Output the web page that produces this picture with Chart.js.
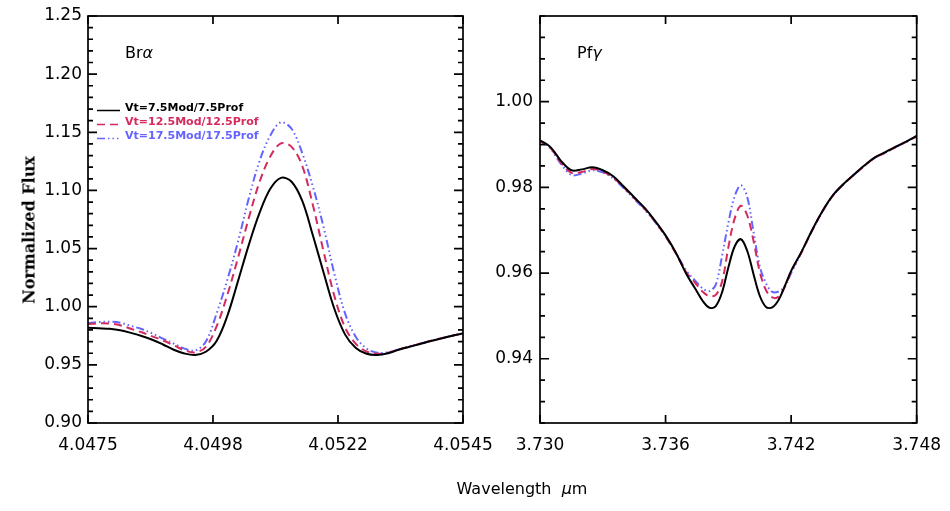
<!DOCTYPE html>
<html>
<head>
<meta charset="utf-8">
<script src="https://cdn.jsdelivr.net/npm/chart.js@4.4.1/dist/chart.umd.min.js"></script>
<style>
  body { margin: 0; background: #fff; }
  #wrap { position: relative; width: 950px; height: 511px; }
  #wrap canvas { position: absolute; left: 0; top: 0; }
  .ytitle { position: absolute; left: 29px; top: 230px; transform: translate(-50%, -50%) rotate(-90deg);
            font: bold 16px "DejaVu Serif"; white-space: nowrap; color: #000; }
  .xtitle { position: absolute; left: 522px; top: 488px; transform: translate(-50%, -50%);
            font: 16px "DejaVu Sans"; white-space: nowrap; color: #000; }
</style>
</head>
<body>
<div id="wrap">
  <canvas id="bra" width="950" height="511"></canvas>
  <canvas id="pfg" width="950" height="511"></canvas>
  <div class="ytitle">Normalized Flux</div>
  <div class="xtitle">Wavelength&nbsp; <i>μ</i>m</div>
</div>
<script>
// series shared by both panels
const seriesLabels = ['Vt=7.5Mod/7.5Prof', 'Vt=12.5Mod/12.5Prof', 'Vt=17.5Mod/17.5Prof'];
const seriesColors = ['#000000', '#d42a5e', '#6464ff'];
const seriesDash = [[], [8, 5], [8, 3, 1.5, 3, 1.5, 3, 1.5, 3]];

// Br alpha panel
const braWave = [4.0475, 4.0477, 4.0479, 4.0481, 4.0483, 4.0485, 4.0487, 4.0489, 4.0491, 4.0493,
  4.0495, 4.0497, 4.0499, 4.0501, 4.0503, 4.0505, 4.0507, 4.0509, 4.0511, 4.0513,
  4.0515, 4.0517, 4.0519, 4.0521, 4.0523, 4.0525, 4.0527, 4.0529, 4.0531, 4.0533,
  4.0535, 4.0537, 4.0539, 4.0541, 4.0543, 4.0545];
const braVt75 = [0.982, 0.9815, 0.981, 0.9798, 0.9775, 0.9748, 0.9716, 0.9675, 0.9630, 0.9598,
  0.9585, 0.9613, 0.9705, 0.992, 1.022, 1.053, 1.0805, 1.1012, 1.1108, 1.1075,
  1.091, 1.061, 1.029, 0.998, 0.976, 0.9645, 0.9595, 0.9585, 0.9600, 0.9630,
  0.9655, 0.968, 0.9705, 0.9728, 0.975, 0.977];
const braVt125 = [0.985, 0.9857, 0.9855, 0.984, 0.981, 0.978, 0.9745, 0.971, 0.9668, 0.9625,
  0.9607, 0.9655, 0.983, 1.010, 1.042, 1.076, 1.107, 1.129, 1.1405, 1.1375,
  1.121, 1.087, 1.047, 1.009, 0.982, 0.968, 0.9615, 0.9595, 0.9605, 0.9632,
  0.9657, 0.9682, 0.9707, 0.9729, 0.9751, 0.9771];
const braVt175 = [0.986, 0.9868, 0.9871, 0.9862, 0.9835, 0.9808, 0.977, 0.9725, 0.9683, 0.964,
  0.9623, 0.970, 0.994, 1.023, 1.056, 1.093, 1.125, 1.147, 1.1585, 1.153,
  1.132, 1.103, 1.068, 1.028, 0.994, 0.974, 0.964, 0.9605, 0.9608, 0.9633,
  0.9658, 0.9683, 0.9707, 0.9729, 0.9751, 0.9771];
const braTicksX = [4.0475, 4.049833, 4.052167, 4.0545];
const braTicksY = [0.90, 0.95, 1.00, 1.05, 1.10, 1.15, 1.20, 1.25];

// Pf gamma panel
const pfgWave = [3.7300, 3.7305, 3.7310, 3.7315, 3.7320, 3.7325, 3.7330, 3.7335, 3.7340, 3.7345,
  3.7350, 3.7355, 3.7360, 3.7365, 3.7370, 3.7374, 3.7378, 3.7381, 3.7384, 3.7387,
  3.7390, 3.7393, 3.7396, 3.7399, 3.7402, 3.7405, 3.7408, 3.7411, 3.7414, 3.7417,
  3.7420, 3.7425, 3.7430, 3.7435, 3.7440, 3.7445, 3.7450, 3.7455, 3.7460, 3.7465,
  3.7470, 3.7475, 3.7480];
const pfgVt75 = [0.9910, 0.9894, 0.9862, 0.9840, 0.9842, 0.9847, 0.9840, 0.9826, 0.9802, 0.9777,
  0.9752, 0.9722, 0.9688, 0.9647, 0.9597, 0.9565, 0.9533, 0.9519, 0.9523, 0.9555,
  0.9613, 0.9662, 0.9679, 0.9652, 0.9598, 0.9547, 0.9521, 0.9520, 0.9537, 0.9570,
  0.9605, 0.9650, 0.9700, 0.9745, 0.9782, 0.9808, 0.9830, 0.9851, 0.9870, 0.9882,
  0.9895, 0.9907, 0.9920];
const pfgVt125 = [0.9909, 0.9892, 0.9858, 0.9834, 0.9836, 0.9843, 0.9837, 0.9823, 0.9800, 0.9775,
  0.9750, 0.9720, 0.9686, 0.9645, 0.9601, 0.9578, 0.9555, 0.9546, 0.9549, 0.9580,
  0.9660, 0.9727, 0.9757, 0.9735, 0.9676, 0.9603, 0.9560, 0.9543, 0.9545, 0.9568,
  0.9603, 0.9649, 0.9699, 0.9744, 0.9781, 0.9807, 0.9829, 0.9850, 0.9869, 0.9881,
  0.9894, 0.9906, 0.9919];
const pfgVt175 = [0.9908, 0.9890, 0.9855, 0.9829, 0.9832, 0.9840, 0.9835, 0.9821, 0.9798, 0.9773,
  0.9748, 0.9719, 0.9686, 0.9646, 0.9605, 0.9583, 0.9563, 0.9558, 0.9573, 0.9640,
  0.9717, 0.9779, 0.9805, 0.9778, 0.9697, 0.9616, 0.9576, 0.9556, 0.9557, 0.9569,
  0.9600, 0.9649, 0.9699, 0.9744, 0.9781, 0.9807, 0.9829, 0.9850, 0.9869, 0.9881,
  0.9894, 0.9906, 0.9919];
const pfgTicksX = [3.730, 3.736, 3.742, 3.748];
const pfgTicksY = [0.94, 0.96, 0.98, 1.00];

Chart.defaults.font.family = '"DejaVu Sans"';
Chart.defaults.color = '#000';

// box frame with IDL-style ticks on all four sides
const frameTicks = {
  id: 'frameTicks',
  afterDraw(chart, args, o) {
    const { ctx, chartArea: a, scales: { x, y } } = chart;
    ctx.save();
    ctx.strokeStyle = '#000';
    ctx.lineWidth = 1.7;
    ctx.strokeRect(a.left, a.top, a.right - a.left, a.bottom - a.top);
    ctx.beginPath();
    x.ticks.forEach(t => {
      const px = x.getPixelForValue(t.value);
      ctx.moveTo(px, a.bottom); ctx.lineTo(px, a.bottom - 8);
      ctx.moveTo(px, a.top); ctx.lineTo(px, a.top + 8);
    });
    for (let v = y.min; v <= y.max + 1e-9; v += o.minorStep) {
      const py = y.getPixelForValue(v);
      ctx.moveTo(a.left, py); ctx.lineTo(a.left + 5, py);
      ctx.moveTo(a.right, py); ctx.lineTo(a.right - 5, py);
    }
    y.ticks.forEach(t => {
      const py = y.getPixelForValue(t.value);
      ctx.moveTo(a.left, py); ctx.lineTo(a.left + 9, py);
      ctx.moveTo(a.right, py); ctx.lineTo(a.right - 9, py);
    });
    ctx.stroke();
    ctx.restore();
  }
};

const panelLabel = {
  id: 'panelLabel',
  afterDraw(chart, args, o) {
    const { ctx, chartArea: a } = chart;
    ctx.save();
    ctx.fillStyle = '#000';
    ctx.textBaseline = 'alphabetic';
    ctx.font = '16px "DejaVu Sans"';
    const x0 = a.left + 37;
    ctx.fillText(o.text, x0, 58);
    const w = ctx.measureText(o.text).width;
    ctx.font = 'italic 16px "DejaVu Sans"';
    ctx.fillText(o.greek, x0 + w, 58);
    ctx.restore();
  }
};

const lineLegend = {
  id: 'lineLegend',
  afterDraw(chart, args, o) {
    if (!o.show) return;
    const { ctx } = chart;
    ctx.save();
    ctx.font = 'bold 11px "DejaVu Sans"';
    ctx.textBaseline = 'alphabetic';
    chart.data.datasets.forEach((ds, i) => {
      const yb = o.y + i * 14;
      ctx.strokeStyle = ds.borderColor;
      ctx.lineWidth = 1.5;
      ctx.setLineDash(ds.borderDash);
      ctx.beginPath();
      ctx.moveTo(o.x, yb); ctx.lineTo(o.x + 23, yb);
      ctx.stroke();
      ctx.fillStyle = ds.borderColor;
      ctx.fillText(ds.label, o.x + 28, yb);
    });
    ctx.restore();
  }
};

function makePanel(cfg) {
  const datasets = cfg.series.map((vals, i) => ({
    label: seriesLabels[i],
    data: cfg.wave.map((w, k) => ({ x: w, y: vals[k] })),
    borderColor: seriesColors[i],
    borderDash: seriesDash[i],
    borderWidth: 2,
    pointRadius: 0,
    fill: false,
    tension: 0.35
  }));
  return new Chart(document.getElementById(cfg.id), {
    type: 'line',
    data: { datasets },
    plugins: [frameTicks, panelLabel, lineLegend],
    options: {
      responsive: false,
      animation: false,
      layout: { padding: cfg.padding },
      scales: {
        x: {
          type: 'linear', min: cfg.xMin, max: cfg.xMax,
          afterBuildTicks: s => { s.ticks = cfg.xTicks.map(v => ({ value: v })); },
          afterFit: s => { s.height = 88; s.paddingLeft = 0; s.paddingRight = 0; },
          ticks: { callback: v => v.toFixed(cfg.xDec), font: { size: 17 }, padding: 12,
                   maxRotation: 0, autoSkip: false },
          grid: { display: false, drawTicks: false },
          border: { display: false }
        },
        y: {
          min: cfg.yMin, max: cfg.yMax,
          afterBuildTicks: s => { s.ticks = cfg.yTicks.map(v => ({ value: v })); },
          afterFit: s => { s.width = cfg.yWidth; s.paddingTop = 0; s.paddingBottom = 0; },
          ticks: { callback: v => v.toFixed(2), font: { size: 17 }, padding: cfg.yPad, autoSkip: false },
          grid: { display: false, drawTicks: false },
          border: { display: false }
        }
      },
      plugins: {
        legend: { display: false },
        tooltip: { enabled: false },
        frameTicks: { minorStep: cfg.minorStep },
        panelLabel: { text: cfg.label, greek: cfg.greek },
        lineLegend: { show: cfg.legend, x: 97, y: 110.5 }
      }
    }
  });
}

makePanel({
  id: 'bra', wave: braWave, series: [braVt75, braVt125, braVt175],
  xMin: 4.0475, xMax: 4.0545, xTicks: braTicksX, xDec: 4,
  yMin: 0.90, yMax: 1.25, yTicks: braTicksY, minorStep: 0.01,
  padding: { left: 0, right: 487, top: 16, bottom: 0 }, yWidth: 88, yPad: 6,
  label: 'Br', greek: 'α', legend: true
});

makePanel({
  id: 'pfg', wave: pfgWave, series: [pfgVt75, pfgVt125, pfgVt175],
  xMin: 3.730, xMax: 3.748, xTicks: pfgTicksX, xDec: 3,
  yMin: 0.925, yMax: 1.02, yTicks: pfgTicksY, minorStep: 0.005,
  padding: { left: 480, right: 33.3, top: 16, bottom: 0 }, yWidth: 60, yPad: 7,
  label: 'Pf', greek: 'γ', legend: false
});
</script>
</body>
</html>
